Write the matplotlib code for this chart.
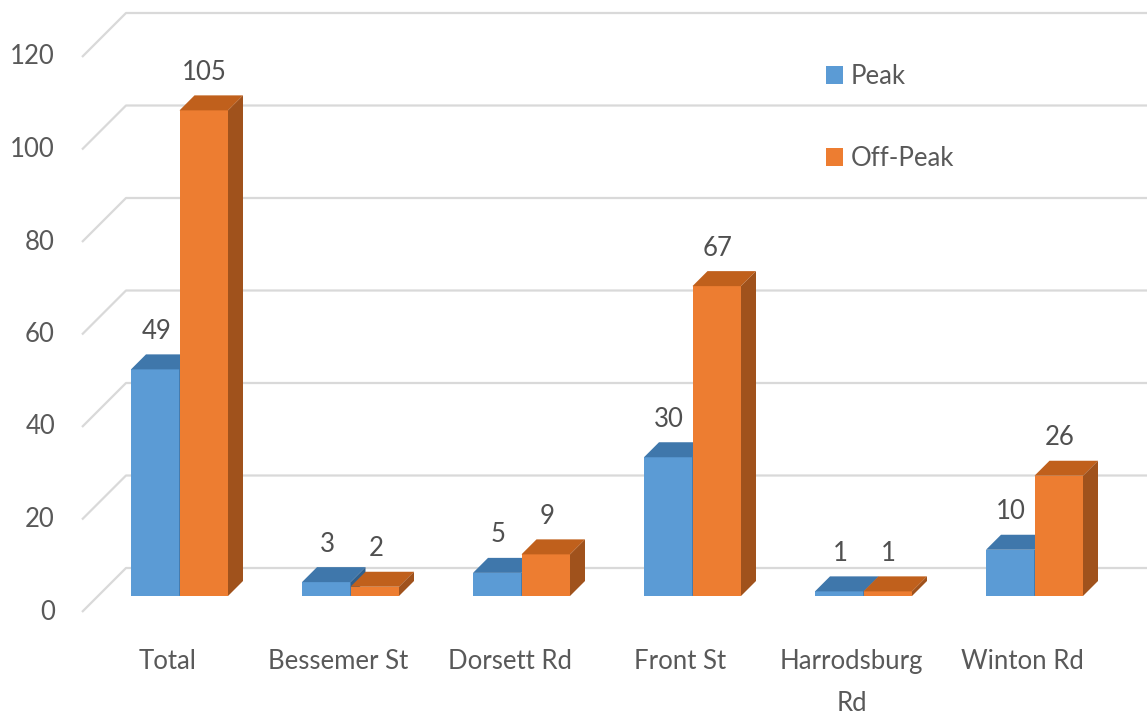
import matplotlib.pyplot as plt
from matplotlib.patches import Polygon, Patch

# Counts per location
categories = ["Total", "Bessemer St", "Dorsett Rd", "Front St", "Harrodsburg\nRd", "Winton Rd"]
peak = [49, 3, 5, 30, 1, 10]
off_peak = [105, 2, 9, 67, 1, 26]
y_ticks = [0, 20, 40, 60, 80, 100, 120]
series_names = ["Peak", "Off-Peak"]

W, H = 1147, 721
plt.rcParams["font.family"] = ["Lato", "DejaVu Sans"]

fig = plt.figure(figsize=(W / 100, H / 100), dpi=100)
ax = fig.add_axes([0, 0, 1, 1])
ax.set_axis_off()

# pixel layout of the fake 3D box
px_cat = 171.0      # pixels between category centres
px_val = 4.625      # pixels per unit
x0_px = 163.5       # first category centre on the floor front edge
floor_px = 612      # value 0 on the floor front edge (from top)
ax.set_xlim(-x0_px / px_cat, (W - x0_px) / px_cat)
ax.set_ylim(-(H - floor_px) / px_val, floor_px / px_val)


def depth(d):
    # oblique offset of d pixels towards the back wall
    return d / px_cat, d / px_val


bar_w = 48.5 / px_cat
bar_front, bar_back, wall = 16, 31, 44
floor_left = (82 - x0_px) / px_cat
grid_color = "#d9d9d9"
text_color = "#595959"
fs = 18.5

# back wall gridlines with the slanted side-wall segment
wdx, wdy = depth(wall)
x_end = ax.get_xlim()[1]
for v in y_ticks:
    ax.plot([floor_left, floor_left + wdx, x_end], [v, v + wdy, v + wdy],
            color=grid_color, lw=1.6, solid_capstyle="butt", zorder=1)
    ax.annotate(str(v), (floor_left, v), xytext=(-27, 0), textcoords="offset pixels",
                ha="right", va="center", fontsize=fs, color=text_color)


def draw_bar(x_left, value, front, top, side):
    fdx, fdy = depth(bar_front)
    bdx, bdy = depth(bar_back)
    ddx, ddy = bdx - fdx, bdy - fdy
    xl, xr = x_left + fdx, x_left + bar_w + fdx
    y0, y1 = fdy, value + fdy
    ax.add_patch(Polygon([(xl, y0), (xr, y0), (xr, y1), (xl, y1)],
                         closed=True, facecolor=front, edgecolor="none", zorder=3))
    ax.add_patch(Polygon([(xl, y1), (xr, y1), (xr + ddx, y1 + ddy), (xl + ddx, y1 + ddy)],
                         closed=True, facecolor=top, edgecolor="none", zorder=3))
    ax.add_patch(Polygon([(xr, y0), (xr + ddx, y0 + ddy), (xr + ddx, y1 + ddy), (xr, y1)],
                         closed=True, facecolor=side, edgecolor="none", zorder=3))
    ax.annotate(str(value), ((xl + xr) / 2, y1), xytext=(1, 38), textcoords="offset pixels",
                ha="center", va="center", fontsize=fs, color="#505050", zorder=4)


blue = ("#5b9bd5", "#3f77ab", "#2f5f8c")
orange = ("#ed7d31", "#c0601c", "#a0521c")

for i, name in enumerate(categories):
    draw_bar(i - bar_w, peak[i], *blue)
    draw_bar(i, off_peak[i], *orange)
    ax.annotate(name, (i, 0), xytext=(4, -37), textcoords="offset pixels",
                ha="center", va="top", fontsize=fs, color=text_color, linespacing=1.85)

handles = [Patch(facecolor=blue[0]), Patch(facecolor=orange[0])]
leg = ax.legend(handles, series_names, loc="upper left",
                bbox_to_anchor=(826 / W, 1 - 64 / H), frameon=False,
                fontsize=fs, handlelength=0.65, handleheight=0.7,
                handletextpad=0.3, labelspacing=2.2, borderaxespad=0, borderpad=0)
for t in leg.get_texts():
    t.set_color(text_color)

fig.savefig("out.png", dpi=100, facecolor="white")
